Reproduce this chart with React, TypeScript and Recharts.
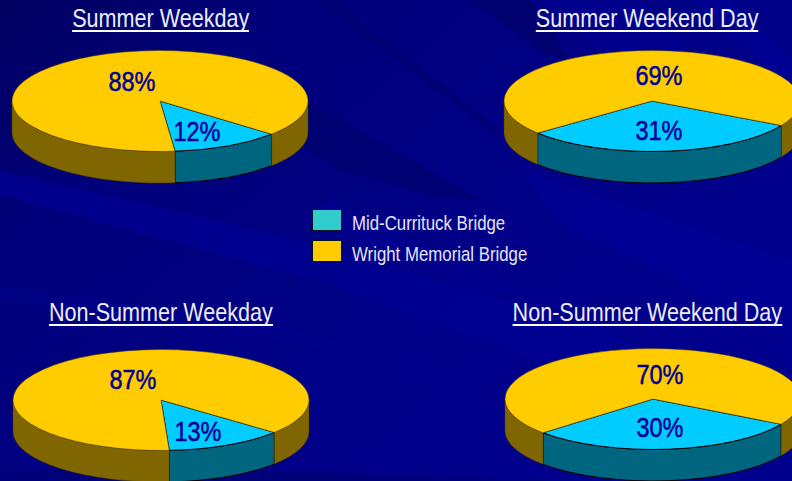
import React from "react";
import { PieChart, Pie, Legend } from "recharts";

const bridges = ["Mid-Currituck Bridge", "Wright Memorial Bridge"];
const topColors = ["#00CCFF", "#FFCC00"];
const sideColors = ["#006680", "#806600"];
const legendColors = ["#33CCCC", "#FFCC00"];

const titles = ["Summer Weekday", "Summer Weekend Day", "Non-Summer Weekday", "Non-Summer Weekend Day"];
const midCurrituck = [12, 31, 13, 30];
const wrightMemorial = [88, 69, 87, 70];

// layout only, no data in here
const panels = [
  { cx: 160, cy: 101, start: -41, titleX: 161, titleY: 6, labels: [[37, 30], [-28, -20]] },
  { cx: 652, cy: 101, start: -29, titleX: 647, titleY: 6, labels: [[7, 29], [7, -26]] },
  { cx: 161, cy: 400, start: -40, titleX: 160.5, titleY: 300, labels: [[37, 31], [-28, -21]] },
  { cx: 653, cy: 399, start: -30, titleX: 647.5, titleY: 300, labels: [[7, 28], [7, -25]] },
];

const RX = 148;
const RY = 50.5;
const DEPTH = 31.5;
const RAD = Math.PI / 180;
const FONT = "'Liberation Sans', Arial, sans-serif";

function px(cx: number, a: number) {
  return cx + RX * Math.cos(a * RAD);
}
function py(cy: number, a: number) {
  return cy - RY * Math.sin(a * RAD);
}

// flat recharts sector squashed into an ellipse with a rim below it
function Slice3D(props: any) {
  const { cx, cy, startAngle, endAngle, fill, side, isStroked } = props;
  const lo = Math.min(startAngle, endAngle);
  const hi = Math.max(startAngle, endAngle);
  const large = hi - lo > 180 ? 1 : 0;

  // rim parts: only the front half of the ellipse shows (sin < 0)
  const rims: [number, number][] = [];
  for (let k = -2; k <= 0; k++) {
    const a = Math.max(lo, -180 + k * 360);
    const b = Math.min(hi, k * 360);
    if (b > a) rims.push([a, b]);
  }
  const stroke = isStroked ? "#000000" : "#4d3d00";
  const sw = isStroked ? 1 : 0.5;

  return (
    <g>
      {rims.map(([a, b], i) => (
        <path
          key={i}
          d={`M${px(cx, a)},${py(cy, a)} A${RX},${RY} 0 0 0 ${px(cx, b)},${py(cy, b)} L${px(cx, b)},${py(cy, b) + DEPTH} A${RX},${RY} 0 0 1 ${px(cx, a)},${py(cy, a) + DEPTH} Z`}
          fill={side}
          stroke={stroke}
          strokeWidth={sw}
        />
      ))}
      <path
        d={`M${cx},${cy} L${px(cx, lo)},${py(cy, lo)} A${RX},${RY} 0 ${large} 0 ${px(cx, hi)},${py(cy, hi)} Z`}
        fill={fill}
        stroke={stroke}
        strokeWidth={sw}
      />
    </g>
  );
}

function PercentLabel(props: any, offsets: number[][]) {
  const { cx, cy, index, value } = props;
  const x = cx + offsets[index][0];
  const y = cy + offsets[index][1];
  return (
    <text
      key={index}
      transform={`translate(${x},${y}) scale(0.84,1)`}
      textAnchor="middle"
      dy={10}
      fill="#000099"
      fontFamily={FONT}
      fontSize={28}
      stroke="#000099"
      strokeWidth={0.5}
    >
      {value}%
    </text>
  );
}

function BridgeLegend() {
  return (
    <div>
      {bridges.map((name, i) => (
        <div key={name} style={{ display: "flex", alignItems: "center", height: 30.5 }}>
          <span
            style={{
              flex: "none",
              width: 30,
              height: 22,
              boxSizing: "border-box",
              background: legendColors[i],
              border: "1px solid #00111f",
              marginRight: 10,
            }}
          />
          <span
            style={{
              position: "relative",
              top: 3,
              color: "#E4E4F6",
              fontSize: 20.5,
              whiteSpace: "nowrap",
              fontFamily: FONT,
              transform: "scaleX(0.82)",
              transformOrigin: "left center",
            }}
          >
            {name}
          </span>
        </div>
      ))}
    </div>
  );
}

function Background() {
  return (
    <svg width={792} height={481} style={{ position: "absolute", left: 0, top: 0 }}>
      <defs>
        <linearGradient id="bg" x1="0" y1="0" x2="1" y2="0.7">
          <stop offset="0" stopColor="#000060" />
          <stop offset="0.25" stopColor="#00007A" />
          <stop offset="0.65" stopColor="#000088" />
          <stop offset="1" stopColor="#00008E" />
        </linearGradient>
      </defs>
      <rect width={792} height={481} fill="url(#bg)" />
      <polygon points="0,170 0,195 330,285 560,370 792,440 792,400 540,310 300,240" fill="#000094" opacity={0.7} />
      <polygon points="0,300 300,345 560,420 792,481 792,460 540,395 280,325 0,285" fill="#00008A" opacity={0.6} />
      <polygon points="305,100 480,200 430,195 340,170 300,145" fill="#000072" />
      <polygon points="315,0 335,0 505,135 490,130" fill="#000074" />
      <polygon points="470,0 530,0 570,60 545,55" fill="#000070" />
      <polygon points="540,0 640,0 792,150 792,200" fill="#00008C" />
      <polygon points="520,170 792,260 792,340 560,225" fill="#000096" opacity={0.7} />
      <polygon points="330,200 540,300 470,290 300,220" fill="#00008C" />
      <polygon points="0,470 260,470 560,481 0,481" fill="#000078" />
      <polygon points="0,60 120,100 200,160 0,110" fill="#00006C" opacity={0.7} />
      <polygon points="690,0 730,0 792,60 792,90" fill="#000096" opacity={0.7} />
    </svg>
  );
}

export default function App() {
  return (
    <div style={{ position: "absolute", left: 0, top: 0, width: 792, height: 481, overflow: "hidden" }}>
      <Background />
      <PieChart width={792} height={481} margin={{ top: 0, right: 0, bottom: 0, left: 0 }} style={{ position: "absolute", left: 0, top: 0 }}>
        {panels.map((p, n) => {
          const rows = bridges.map((name, i) => ({
            name,
            value: i === 0 ? midCurrituck[n] : wrightMemorial[n],
            fill: topColors[i],
            side: sideColors[i],
            isStroked: i === 0,
          }));
          return (
            <Pie
              key={titles[n]}
              data={rows}
              dataKey="value"
              nameKey="name"
              cx={p.cx}
              cy={p.cy}
              outerRadius={RX}
              startAngle={p.start}
              endAngle={p.start - 360}
              paddingAngle={0}
              stroke="none"
              shape={Slice3D}
              label={(props: any) => PercentLabel(props, p.labels)}
              labelLine={false}
              legendType="none"
              isAnimationActive={false}
            />
          );
        })}
        <Legend
          content={BridgeLegend}
          layout="vertical"
          wrapperStyle={{ left: 312, top: 205, width: 260, bottom: "auto" }}
        />
      </PieChart>
      {panels.map((p, n) => (
        <div
          key={titles[n]}
          style={{
            position: "absolute",
            left: p.titleX - 200,
            top: p.titleY,
            width: 400,
            textAlign: "center",
          }}
        >
          <span
            style={{
              display: "inline-block",
              whiteSpace: "nowrap",
              color: "#ECECFA",
              fontSize: 26,
              lineHeight: "24px",
              borderBottom: "2px solid #FFFFFF",
              fontFamily: FONT,
              transform: "scaleX(0.83)",
            }}
          >
            {titles[n]}
          </span>
        </div>
      ))}
    </div>
  );
}
